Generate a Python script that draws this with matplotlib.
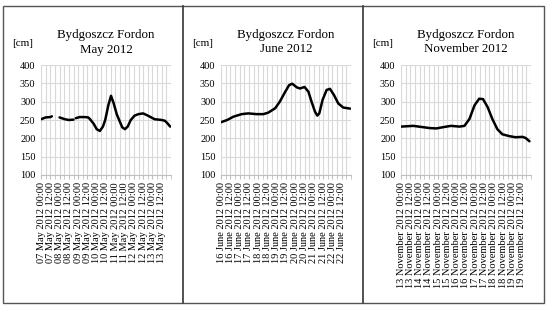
import numpy as np
import matplotlib
matplotlib.use("Agg")
import matplotlib.pyplot as plt
from matplotlib.patches import Rectangle
from matplotlib.lines import Line2D

plt.rcParams['font.family'] = ['Liberation Serif', 'DejaVu Serif']

# ---- data (hours from start of period, water level in cm) ----
may_hours = [0, 6, 12, 14, 18, 24, 31, 36, 42, 43, 45, 50, 57, 61, 63, 68, 72, 76, 80, 83, 87, 90.5, 94, 98, 102, 105, 108.5, 112, 116, 121, 126, 132, 138, 147, 152, 156, 160, 163, 167]
may_level = [252, 257, 258, 260, np.nan, 257, 252, 250, 251, np.nan, 255, 258, 258, 257, 253, 240, 225, 220, 232, 250, 290, 316, 295, 265, 245, 230, 225, 232, 250, 262, 266, 268, 262, 252, 251, 250, 248, 242, 232]
may_days = ["07", "07", "08", "08", "09", "09", "10", "10", "11", "11", "12", "12", "13", "13"]

jun_hours = [0, 8, 16, 26.7, 35.3, 46, 54.7, 61, 70, 76, 83, 88, 92, 98, 102, 108, 113, 117, 121.4, 124.4, 127, 131.3, 136.5, 140.8, 146, 151.6, 158, 167]
jun_level = [244, 250, 259, 266, 268, 266, 266, 270, 282, 300, 327, 345, 349, 339, 336, 340, 327, 300, 273, 262, 268, 305, 332, 335, 318, 295, 284, 281]
jun_days = ["16", "16", "17", "17", "18", "18", "19", "19", "20", "20", "21", "21", "22", "22"]

nov_hours = [0, 16, 26.5, 37, 45.6, 56, 64.5, 75.6, 82, 88.5, 95, 101, 106, 112, 118, 124.5, 131, 140, 148, 157, 161, 166]
nov_level = [232, 234, 231, 228, 227, 231, 234, 232, 234, 253, 290, 308, 307, 285, 253, 225, 211, 206, 203, 204, 201, 192]
nov_days = ["13", "13", "14", "14", "15", "15", "16", "16", "17", "17", "18", "18", "19", "19"]

half_days = ["00:00", "12:00"]
y_ticks = [100, 150, 200, 250, 300, 350, 400]

panels = [
    ("Bydgoszcz Fordon\nMay 2012", may_hours, may_level, may_days, "May", 41),
    ("Bydgoszcz Fordon\nJune 2012", jun_hours, jun_level, jun_days, "June", 221),
    ("Bydgoszcz Fordon\nNovember 2012", nov_hours, nov_level, nov_days, "November", 401),
]

W, H = 550, 309
fig = plt.figure(figsize=(5.5, 3.09), dpi=100)

ax_bottom_px, ax_top_px = 175, 65
ax_w_px = 130

for title, hrs, lvl, days, month, left_px in panels:
    ax = fig.add_axes([left_px / W, 1 - ax_bottom_px / H, ax_w_px / W, (ax_bottom_px - ax_top_px) / H])
    ax.plot(hrs, lvl, color='black', lw=1.8, solid_capstyle='round')
    ax.set_xlim(0, 168)
    ax.set_ylim(100, 400)
    ax.set_yticks(y_ticks)
    ax.set_yticklabels([str(v) for v in y_ticks], fontsize=7.5)
    ticks = np.arange(0, 168, 12)
    labels = [f"{d} {month} 2012 {half_days[i % 2]}" for i, d in enumerate(days)]
    ax.set_xticks(ticks)
    ax.set_xticklabels(labels, rotation=90, fontsize=7.5)
    ax.set_xticks(np.arange(0, 169, 6), minor=True)
    ax.grid(True, which='both', axis='x', color='#d9d9d9', lw=0.8)
    ax.grid(True, which='major', axis='y', color='#d9d9d9', lw=0.8)
    ax.set_axisbelow(True)
    for s in ['top', 'right', 'left']:
        ax.spines[s].set_visible(False)
    ax.spines['bottom'].set_color('#bfbfbf')
    ax.spines['bottom'].set_linewidth(0.8)
    ax.tick_params(axis='y', length=0, pad=4)
    ax.tick_params(axis='x', which='both', length=3, color='#bfbfbf', pad=2)
    ax.set_title(title, fontsize=9.3, pad=9, linespacing=1.25)
    fig.text((left_px - 18) / W, 1 - 43 / H, "[cm]", fontsize=8, ha='center', va='center')

# frame and dividers
fig.add_artist(Rectangle((3 / W, 1 - 303 / H), 541 / W, 297 / H, transform=fig.transFigure,
                         fill=False, edgecolor='#555555', lw=1.0))
for xd in [183, 363]:
    fig.add_artist(Line2D([xd / W, xd / W], [1 - 303 / H, 1 - 6 / H], transform=fig.transFigure,
                          color='#444444', lw=1.3))

fig.savefig("out.png", dpi=100)
